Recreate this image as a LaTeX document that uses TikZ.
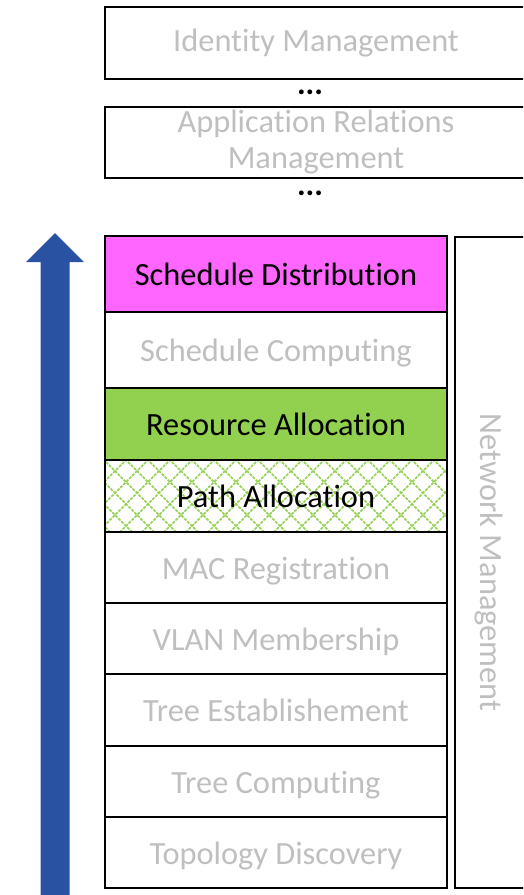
\documentclass[tikz,border=0pt]{standalone}
\usepackage{fontspec}
\setmainfont{Carlito}[Ligatures=NoCommon]
\definecolor{lbl}{HTML}{BFBFBF}
\definecolor{magentafill}{HTML}{FF66FF}
\definecolor{greenfill}{HTML}{92D050}
\definecolor{arrowblue}{HTML}{2A52A3}
\tikzset{
  bigtext/.style={font=\fontsize{32.4}{36}\selectfont},
  layer/.style={bigtext, draw=black, line width=2pt, minimum width=342pt,
    inner sep=0pt, text height=23pt, text depth=0pt, text=lbl},
  active/.style={text=black},
  topbox/.style={bigtext, draw=black, line width=2pt, minimum width=422pt,
    minimum height=72pt, inner sep=0pt, text=lbl, align=center},
  ellipsisdots/.style={bigtext, inner sep=0pt, anchor=base, text=black},
  hatch/.style={draw=greenfill, line width=1.6pt, dash pattern=on 3pt off 1.2pt}
}
\begin{document}
\begin{tikzpicture}[x=1pt,y=-1pt]
\useasboundingbox (0,0) rectangle (523,895);
\clip (0,0) rectangle (523,895);

% upward arrow on the left
\fill[arrowblue] (40.5,896) -- (40.5,262) -- (26,262) -- (55,233)
  -- (84,262) -- (69.5,262) -- (69.5,896) -- cycle;

% upper management boxes
\node[topbox] (idm) at (316,43) {Identity Management};
\node[ellipsisdots] (dotsA) at (310,94.5) {\textbf{...}};
\node[topbox, minimum height=71pt] (arm) at (316,142.5) {Application Relations\\Management};
\node[ellipsisdots] (dotsB) at (310,195.5) {\textbf{...}};

% diamond lattice behind the path allocation layer
\begin{scope}
  \clip (105,460) rectangle (447,532);
  \foreach \k in {-4,...,16} {
    \pgfmathsetmacro{\c}{-356+22*\k}
    \draw[hatch] (\c+450,450) -- (\c+540,540);
  }
  \foreach \m in {-1,...,18} {
    \pgfmathsetmacro{\s}{586+22*\m}
    \draw[hatch] (\s-450,450) -- (\s-540,540);
  }
\end{scope}

% protocol stack layers
\node[layer, active, fill=magentafill, minimum height=76pt] (sd) at (276,274) {Schedule Distribution};
\node[layer, minimum height=76pt] (sc) at (276,350) {Schedule Computing};
\node[layer, active, fill=greenfill, minimum height=72pt] (ra) at (276,424) {Resource Allocation};
\node[layer, active, minimum height=72pt] (pa) at (276,496) {Path Allocation};
\node[layer, minimum height=71pt] (mac) at (276,567.5) {MAC Registration};
\node[layer, minimum height=71pt] (vlan) at (276,638.5) {VLAN Membership};
\node[layer, minimum height=72pt] (te) at (276,710) {Tree Establishement};
\node[layer, minimum height=71pt] (tc) at (276,781.5) {Tree Computing};
\node[layer, minimum height=71pt] (td) at (276,852.5) {Topology Discovery};

% network management column
\node[bigtext, draw=black, line width=2pt, minimum width=70pt, minimum height=651pt,
  inner sep=0pt] (nmbox) at (490,562.5) {};
\node[bigtext, text=lbl, rotate=-90, inner sep=0pt] (nm) at (489,562.5) {Network Management};
\end{tikzpicture}
\end{document}
